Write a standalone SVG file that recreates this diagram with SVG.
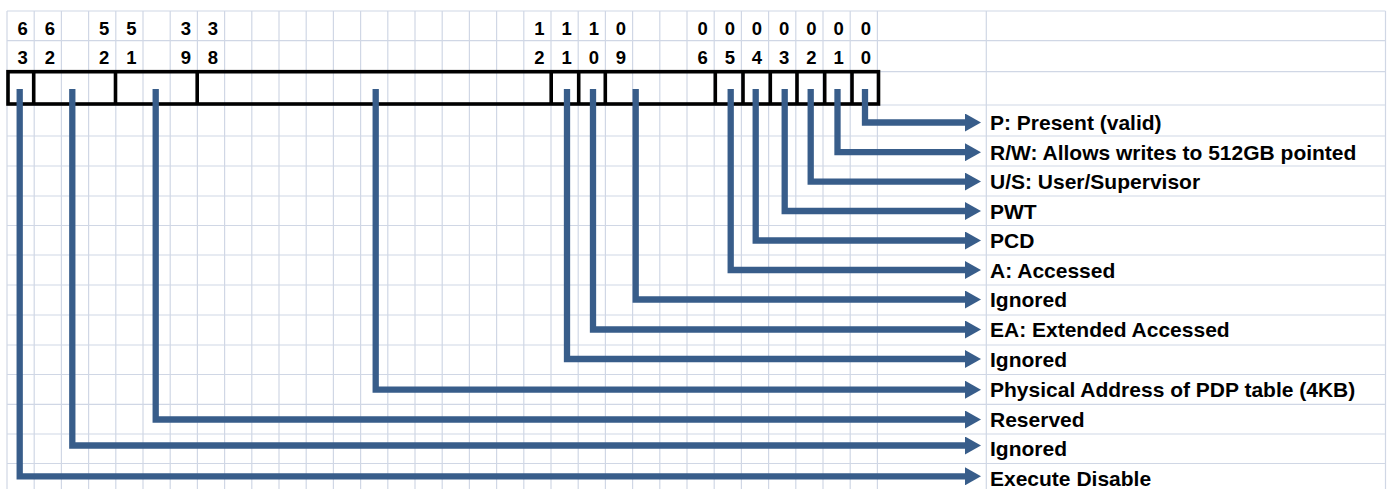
<svg xmlns="http://www.w3.org/2000/svg" width="1391" height="489" viewBox="0 0 1391 489">
<style>
.grid line{stroke:#D0D7E5;stroke-width:1.2}
.bit{font-family:"Liberation Sans",Arial,sans-serif;font-weight:bold;font-size:18.5px;fill:#000;text-anchor:middle}
.lbl{font-family:"Liberation Sans",Arial,sans-serif;font-weight:bold;font-size:21px;fill:#000}
.box{fill:none;stroke:#000;stroke-width:3.6}
.conn path{fill:none;stroke:#385D8A;stroke-width:6.3;stroke-linejoin:miter;marker-end:url(#ah)}
</style>
<defs>
<marker id="ah" markerUnits="userSpaceOnUse" markerWidth="16" markerHeight="18" viewBox="0 0 16 18" refX="1" refY="9" orient="auto">
<path d="M0,0 L16,9 L0,18 Z" fill="#385D8A"/>
</marker>
</defs>
<rect width="1391" height="489" fill="#fff"/>
<g class="grid" id="grid">
<line x1="7" y1="11" x2="7" y2="489"/>
<line x1="34.2" y1="11" x2="34.2" y2="489"/>
<line x1="61.4" y1="11" x2="61.4" y2="489"/>
<line x1="88.6" y1="11" x2="88.6" y2="489"/>
<line x1="115.8" y1="11" x2="115.8" y2="489"/>
<line x1="143" y1="11" x2="143" y2="489"/>
<line x1="170.2" y1="11" x2="170.2" y2="489"/>
<line x1="197.4" y1="11" x2="197.4" y2="489"/>
<line x1="224.6" y1="11" x2="224.6" y2="489"/>
<line x1="251.8" y1="11" x2="251.8" y2="489"/>
<line x1="279" y1="11" x2="279" y2="489"/>
<line x1="306.2" y1="11" x2="306.2" y2="489"/>
<line x1="333.4" y1="11" x2="333.4" y2="489"/>
<line x1="360.6" y1="11" x2="360.6" y2="489"/>
<line x1="387.8" y1="11" x2="387.8" y2="489"/>
<line x1="415" y1="11" x2="415" y2="489"/>
<line x1="442.2" y1="11" x2="442.2" y2="489"/>
<line x1="469.4" y1="11" x2="469.4" y2="489"/>
<line x1="496.6" y1="11" x2="496.6" y2="489"/>
<line x1="523.8" y1="11" x2="523.8" y2="489"/>
<line x1="551" y1="11" x2="551" y2="489"/>
<line x1="578.2" y1="11" x2="578.2" y2="489"/>
<line x1="605.4" y1="11" x2="605.4" y2="489"/>
<line x1="632.6" y1="11" x2="632.6" y2="489"/>
<line x1="659.8" y1="11" x2="659.8" y2="489"/>
<line x1="687" y1="11" x2="687" y2="489"/>
<line x1="714.2" y1="11" x2="714.2" y2="489"/>
<line x1="741.4" y1="11" x2="741.4" y2="489"/>
<line x1="768.6" y1="11" x2="768.6" y2="489"/>
<line x1="795.8" y1="11" x2="795.8" y2="489"/>
<line x1="823" y1="11" x2="823" y2="489"/>
<line x1="850.2" y1="11" x2="850.2" y2="489"/>
<line x1="877.4" y1="11" x2="877.4" y2="489"/>
<line x1="986.3" y1="11" x2="986.3" y2="489"/>
<line x1="1385.5" y1="11" x2="1385.5" y2="489"/>
<line x1="7" y1="11" x2="1385.5" y2="11"/>
<line x1="7" y1="40.7" x2="1385.5" y2="40.7"/>
<line x1="7" y1="71.7" x2="1385.5" y2="71.7"/>
<line x1="7" y1="105" x2="1385.5" y2="105"/>
<line x1="7" y1="136" x2="1385.5" y2="136"/>
<line x1="7" y1="166" x2="1385.5" y2="166"/>
<line x1="7" y1="196" x2="1385.5" y2="196"/>
<line x1="7" y1="225.5" x2="1385.5" y2="225.5"/>
<line x1="7" y1="255" x2="1385.5" y2="255"/>
<line x1="7" y1="285" x2="1385.5" y2="285"/>
<line x1="7" y1="315" x2="1385.5" y2="315"/>
<line x1="7" y1="345" x2="1385.5" y2="345"/>
<line x1="7" y1="374.5" x2="1385.5" y2="374.5"/>
<line x1="7" y1="404.3" x2="1385.5" y2="404.3"/>
<line x1="7" y1="434" x2="1385.5" y2="434"/>
<line x1="7" y1="463.5" x2="1385.5" y2="463.5"/>
</g>
<g id="bit-numbers">
<text class="bit" x="22.6" y="35">6</text><text class="bit" x="22.6" y="64">3</text>
<text class="bit" x="49.8" y="35">6</text><text class="bit" x="49.8" y="64">2</text>
<text class="bit" x="104.2" y="35">5</text><text class="bit" x="104.2" y="64">2</text>
<text class="bit" x="131.4" y="35">5</text><text class="bit" x="131.4" y="64">1</text>
<text class="bit" x="185.8" y="35">3</text><text class="bit" x="185.8" y="64">9</text>
<text class="bit" x="213" y="35">3</text><text class="bit" x="213" y="64">8</text>
<text class="bit" x="539.4" y="35">1</text><text class="bit" x="539.4" y="64">2</text>
<text class="bit" x="566.6" y="35">1</text><text class="bit" x="566.6" y="64">1</text>
<text class="bit" x="593.8" y="35">1</text><text class="bit" x="593.8" y="64">0</text>
<text class="bit" x="621" y="35">0</text><text class="bit" x="621" y="64">9</text>
<text class="bit" x="702.6" y="35">0</text><text class="bit" x="702.6" y="64">6</text>
<text class="bit" x="729.8" y="35">0</text><text class="bit" x="729.8" y="64">5</text>
<text class="bit" x="757" y="35">0</text><text class="bit" x="757" y="64">4</text>
<text class="bit" x="784.2" y="35">0</text><text class="bit" x="784.2" y="64">3</text>
<text class="bit" x="811.4" y="35">0</text><text class="bit" x="811.4" y="64">2</text>
<text class="bit" x="838.6" y="35">0</text><text class="bit" x="838.6" y="64">1</text>
<text class="bit" x="865.8" y="35">0</text><text class="bit" x="865.8" y="64">0</text>
</g>
<g id="register">
<rect class="box" x="8" y="71.7" width="870.5" height="32.3"/>
<path class="box" d="M33.7,71.7V104M115.5,71.7V104M197.2,71.7V104M551.2,71.7V104M578.7,71.7V104M605.3,71.7V104M715.3,71.7V104M743,71.7V104M770.3,71.7V104M797,71.7V104M824.7,71.7V104M852,71.7V104"/>
</g>
<g class="conn" id="connectors">
<path d="M865,89V122.5H966"/>
<path d="M837.5,89V152.2H966"/>
<path d="M810.7,89V181.6H966"/>
<path d="M784.7,89V211H966"/>
<path d="M755.7,89V240.5H966"/>
<path d="M730.7,89V270H966"/>
<path d="M635.7,89V299.5H966"/>
<path d="M593,89V329.5H966"/>
<path d="M567,89V359H966"/>
<path d="M375.7,89V389.7H966"/>
<path d="M155.7,89V419.5H966"/>
<path d="M72.3,89V445.5H966"/>
<path d="M19.7,89V476.3H966"/>
</g>
<g id="labels">
<text class="lbl" id="n-p" x="990" y="130">P: Present (valid)</text>
<text class="lbl" id="n-rw" x="990" y="159.7">R/W: Allows writes to 512GB pointed</text>
<text class="lbl" id="n-us" x="990" y="189.1">U/S: User/Supervisor</text>
<text class="lbl" id="n-pwt" x="990" y="218.5">PWT</text>
<text class="lbl" id="n-pcd" x="990" y="248">PCD</text>
<text class="lbl" id="n-a" x="990" y="277.5">A: Accessed</text>
<text class="lbl" id="n-ign1" x="990" y="307">Ignored</text>
<text class="lbl" id="n-ea" x="990" y="337">EA: Extended Accessed</text>
<text class="lbl" id="n-ign2" x="990" y="366.5">Ignored</text>
<text class="lbl" id="n-addr" x="990" y="397.2">Physical Address of PDP table (4KB)</text>
<text class="lbl" id="n-res" x="990" y="427">Reserved</text>
<text class="lbl" id="n-ign3" x="990" y="455.5">Ignored</text>
<text class="lbl" id="n-xd" x="990" y="486">Execute Disable</text>
</g>
</svg>
